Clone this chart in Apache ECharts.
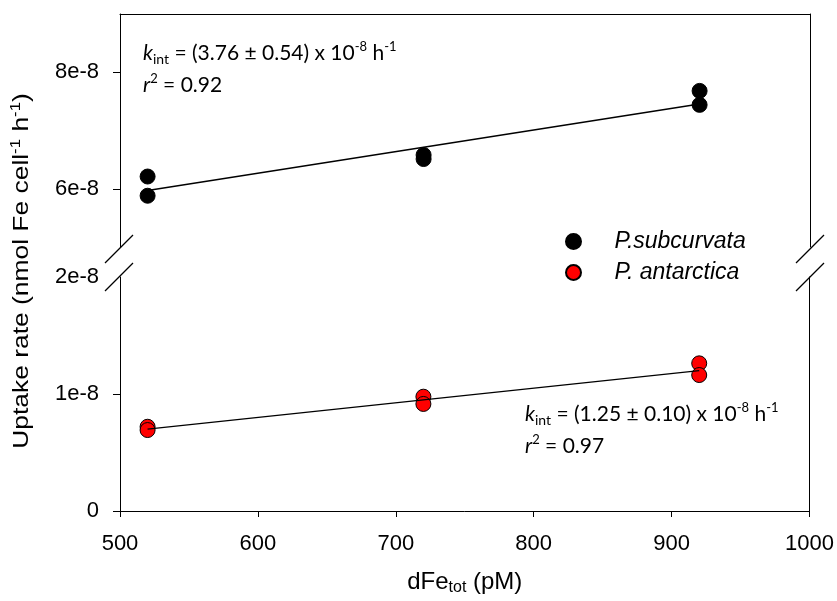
<!DOCTYPE html>
<html><head><meta charset="utf-8">
<script src="https://cdn.jsdelivr.net/npm/echarts@6/dist/echarts.min.js"></script>
<style>html,body{margin:0;padding:0;background:#fff}#c{width:837px;height:601px}</style>
</head><body><div id="c"></div>
<script>
// ---- DATA ----
const dFe = [520, 720, 920];
const subcurvataA = [6.21e-8, 6.58e-8, 7.68e-8];
const subcurvataB = [5.88e-8, 6.51e-8, 7.44e-8];
const antarcticaA = [0.720e-8, 0.977e-8, 1.262e-8];
const antarcticaB = [0.692e-8, 0.915e-8, 1.162e-8];
const fitX = [520, 920];
const subcurvataFit = [5.97e-8, 7.455e-8];
const antarcticaFit = [0.70e-8, 1.20e-8];
const seriesNames = ['P.subcurvata', 'P. antarctica'];
const xTickValues = [500, 600, 700, 800, 900, 1000];
const xTickLabels = ['500', '600', '700', '800', '900', '1000'];
const upperTickValues = [6e-8, 8e-8];
const upperTickLabels = ['6e-8', '8e-8'];
const lowerTickValues = [0, 1e-8, 2e-8];
const lowerTickLabels = ['0', '1e-8', '2e-8'];

const chart = echarts.init(document.getElementById('c'), null, {renderer: 'canvas'});
const FONT = '"Liberation Sans", Arial, sans-serif';
const ANN = 'Lato, "Open Sans", sans-serif';

function pairs(xs, ys) { return xs.map((x, i) => [x, ys[i]]); }
function fmt(vals, labels) {
  return function (v) {
    const i = vals.findIndex(t => Math.abs(t - v) < 1e-12 * Math.max(1, Math.abs(t)));
    return i >= 0 ? labels[i] : '';
  };
}
const lineStyleAxis = {color: '#000', width: 1};
const AF = 21;
const annRich = {
  k: {fontFamily: ANN, fontSize: AF, fontStyle: 'italic', fill: '#000', lineHeight: 26},
  n: {fontFamily: ANN, fontSize: AF, fill: '#000', lineHeight: 26},
  sub: {fontFamily: ANN, fontSize: 14, fill: '#000', lineHeight: 26, verticalAlign: 'bottom'},
  sup: {fontFamily: ANN, fontSize: 13, fill: '#000', lineHeight: 26, verticalAlign: 'top'}
};
function annotation(x, y, text) {
  return {type: 'text', left: x, top: y, z: 50,
    style: {text: text, rich: annRich, font: AF + 'px ' + ANN, fill: '#000'}};
}

const option = {
  animation: false,
  backgroundColor: '#fff',
  grid: [
    {left: 120, right: 27, top: 14, height: 233},
    {left: 120, right: 27, top: 277, height: 234}
  ],
  xAxis: [
    {gridIndex: 0, type: 'value', min: 500, max: 1000, position: 'top',
     axisLine: {show: true, lineStyle: lineStyleAxis}, axisTick: {show: false},
     axisLabel: {show: false}, splitLine: {show: false}},
    {gridIndex: 1, type: 'value', min: 500, max: 1000, interval: 100, position: 'bottom',
     axisLine: {show: true, onZero: false, lineStyle: lineStyleAxis},
     axisTick: {show: true, length: 6, lineStyle: lineStyleAxis},
     axisLabel: {color: '#000', fontFamily: FONT, fontSize: 22, margin: 22,
       customValues: xTickValues, showMinLabel: true, showMaxLabel: true,
       formatter: fmt(xTickValues, xTickLabels)},
     splitLine: {show: false},
     name: '{n|dFe}{s|tot}{n| (pM)}', nameLocation: 'middle', nameGap: 57,
     nameTextStyle: {rich: {
       n: {fontFamily: FONT, fontSize: 24, color: '#000', lineHeight: 28},
       s: {fontFamily: FONT, fontSize: 16, color: '#000', lineHeight: 28, verticalAlign: 'bottom'}
     }}}
  ],
  yAxis: [
    {gridIndex: 0, type: 'value', min: 5e-8, max: 9e-8, position: 'left',
     axisLine: {show: true, onZero: false, lineStyle: lineStyleAxis},
     axisTick: {show: true, length: 7, customValues: upperTickValues, lineStyle: lineStyleAxis},
     axisLabel: {color: '#000', fontFamily: FONT, fontSize: 22, margin: 21,
       customValues: upperTickValues, formatter: fmt(upperTickValues, upperTickLabels)},
     splitLine: {show: false}},
    {gridIndex: 0, type: 'value', min: 5e-8, max: 9e-8, position: 'right',
     axisLine: {show: true, onZero: false, lineStyle: lineStyleAxis},
     axisTick: {show: false}, axisLabel: {show: false}, splitLine: {show: false}},
    {gridIndex: 1, type: 'value', min: 0, max: 2e-8, position: 'left',
     axisLine: {show: true, onZero: false, lineStyle: lineStyleAxis},
     axisTick: {show: true, length: 7, customValues: [lowerTickValues[0], lowerTickValues[1]], lineStyle: lineStyleAxis},
     axisLabel: {color: '#000', fontFamily: FONT, fontSize: 22, margin: 21,
       customValues: lowerTickValues, showMinLabel: true, showMaxLabel: true,
       formatter: fmt(lowerTickValues, lowerTickLabels)},
     splitLine: {show: false}},
    {gridIndex: 1, type: 'value', min: 0, max: 2e-8, position: 'right',
     axisLine: {show: true, onZero: false, lineStyle: lineStyleAxis},
     axisTick: {show: false}, axisLabel: {show: false}, splitLine: {show: false}}
  ],
  legend: {
    orient: 'vertical', left: 560, top: 225, itemWidth: 72, itemHeight: 15, itemGap: 8,
    icon: 'circle', data: seriesNames,
    textStyle: {fontFamily: FONT, fontSize: 23, fontStyle: 'italic', color: '#000', lineHeight: 20}
  },
  series: [
    {name: seriesNames[0], type: 'scatter', xAxisIndex: 0, yAxisIndex: 0,
     symbolSize: 15, itemStyle: {color: '#000', borderColor: '#000', borderWidth: 1, opacity: 1},
     data: pairs(dFe, subcurvataA).concat(pairs(dFe, subcurvataB)), z: 3},
    {name: seriesNames[1], type: 'scatter', xAxisIndex: 1, yAxisIndex: 2,
     symbolSize: 15, itemStyle: {color: '#ff0000', borderColor: '#000', borderWidth: 1, opacity: 1},
     data: pairs(dFe, antarcticaA).concat(pairs(dFe, antarcticaB)), z: 3},
    {name: 'fit1', type: 'line', xAxisIndex: 0, yAxisIndex: 0, showSymbol: false, symbol: 'none',
     lineStyle: {color: '#000', width: 1.3}, data: pairs(fitX, subcurvataFit), z: 5, silent: true},
    {name: 'fit2', type: 'line', xAxisIndex: 1, yAxisIndex: 2, showSymbol: false, symbol: 'none',
     lineStyle: {color: '#000', width: 1.3}, data: pairs(fitX, antarcticaFit), z: 5, silent: true}
  ],
  graphic: [
    // axis-break marks
    {type: 'line', shape: {x1: 105, y1: 263, x2: 133, y2: 235}, style: {stroke: '#000', lineWidth: 1.2}, z: 60},
    {type: 'line', shape: {x1: 105, y1: 291, x2: 133, y2: 263}, style: {stroke: '#000', lineWidth: 1.2}, z: 60},
    {type: 'line', shape: {x1: 796, y1: 263, x2: 824, y2: 235}, style: {stroke: '#000', lineWidth: 1.2}, z: 60},
    {type: 'line', shape: {x1: 796, y1: 291, x2: 824, y2: 263}, style: {stroke: '#000', lineWidth: 1.2}, z: 60},
    // y axis title
    {type: 'text', x: 22, y: 271, rotation: Math.PI / 2, scaleX: 1.2, z: 50,
     style: {text: '{n|Uptake rate (nmol Fe cell}{s|-1}{n| h}{s|-1}{n|)}', align: 'center', verticalAlign: 'middle',
       rich: {
         n: {fontFamily: FONT, fontSize: 22, fill: '#000', lineHeight: 26},
         s: {fontFamily: FONT, fontSize: 14, fill: '#000', lineHeight: 26, verticalAlign: 'top'}
       }}},
    annotation(143, 40, '{k|k}{sub|int}{n| = (3.76 ± 0.54) x 10}{sup|-8}{n| h}{sup|-1}'),
    annotation(143, 72, '{k|r}{sup|2}{n| = 0.92}'),
    annotation(525, 401, '{k|k}{sub|int}{n| = (1.25 ± 0.10) x 10}{sup|-8}{n| h}{sup|-1}'),
    annotation(525, 433, '{k|r}{sup|2}{n| = 0.97}')
  ]
};
chart.setOption(option);
</script>
</body></html>
